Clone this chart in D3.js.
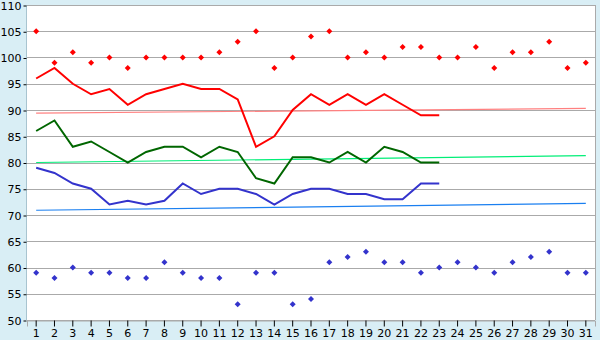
<!DOCTYPE html>
<html>
<head>
<meta charset="utf-8">
<script src="https://cdn.jsdelivr.net/npm/d3@7"></script>
<style>
  body { margin: 0; background: #d9eef5; }
  svg text { font-family: "DejaVu Sans", Verdana, sans-serif; font-size: 11px; fill: #000; }
</style>
</head>
<body>
<script>
// days of the month
const days = d3.range(1, 32);

// record highs / lows (points)
const recHigh = [105, 99, 101, 99, 100, 98, 100, 100, 100, 100, 101, 103, 105, 98, 100, 104,
                 105, 100, 101, 100, 102, 102, 100, 100, 102, 98, 101, 101, 103, 98, 99];
const recLow = [59, 58, 60, 59, 59, 58, 58, 61, 59, 58, 58, 53, 59, 59, 53, 54,
                61, 62, 63, 61, 61, 59, 60, 61, 60, 59, 61, 62, 63, 59, 59];

// observed lines (first 23 days)
const obsHigh = [96, 98, 95, 93, 94, 91, 93, 94, 95, 94, 94, 92, 83, 85, 90, 93,
                 91, 93, 91, 93, 91, 89, 89];
const obsMean = [86, 88, 83, 84, 82, 80, 82, 83, 83, 81, 83, 82, 77, 76, 81, 81,
                 80, 82, 80, 83, 82, 80, 80];
const obsLow = [79, 78, 76, 75, 72, 72.7, 72, 72.7, 76, 74, 75, 75, 74, 72, 74, 75,
                75, 74, 74, 73, 73, 76, 76];

// normals (start / end of month)
const normHigh = [89.4, 90.3];
const normMean = [80.0, 81.3];
const normLow = [70.9, 72.2];

const yTicks = d3.range(50, 111, 5);

const W = 600, H = 340;
const margin = {left: 27, right: 5, top: 5, bottom: 20};

const svg = d3.select("body").append("svg")
    .attr("width", W)
    .attr("height", H);

const x = d3.scaleBand()
    .domain(days)
    .range([margin.left, W - margin.right]);

const y = d3.scaleLinear()
    .domain([50, 110])
    .range([H - margin.bottom, margin.top]);

const cx = d => x(d) + x.bandwidth() / 2;

// plot background
svg.append("rect")
    .attr("x", margin.left)
    .attr("y", margin.top)
    .attr("width", W - margin.left - margin.right)
    .attr("height", H - margin.top - margin.bottom)
    .attr("fill", "#fff");

// grid
svg.append("g")
    .selectAll("line")
    .data(yTicks)
    .join("line")
    .attr("x1", margin.left)
    .attr("x2", W - margin.right)
    .attr("y1", d => Math.round(y(d)) + 0.5)
    .attr("y2", d => Math.round(y(d)) + 0.5)
    .attr("stroke", "#aaa")
    .attr("shape-rendering", "crispEdges");

// right / left border
svg.append("line")
    .attr("x1", W - margin.right + 0.5).attr("x2", W - margin.right + 0.5)
    .attr("y1", margin.top).attr("y2", H - margin.bottom)
    .attr("stroke", "#aaa");
svg.append("line")
    .attr("x1", margin.left - 0.5).attr("x2", margin.left - 0.5)
    .attr("y1", margin.top).attr("y2", H - margin.bottom)
    .attr("stroke", "#a8c4d0");

// axes
const yAxis = svg.append("g")
    .attr("transform", "translate(" + (margin.left - 0.5) + ",0.5)")
    .call(d3.axisLeft(y).tickValues(yTicks).tickSize(3).tickPadding(2));
yAxis.select(".domain").remove();
yAxis.selectAll("line").attr("stroke", "#000");

const xAxis = svg.append("g")
    .attr("transform", "translate(0," + (H - margin.bottom + 0.5) + ")")
    .call(d3.axisBottom(x).tickSize(6).tickPadding(3));
xAxis.select(".domain").attr("stroke", "#aaa");
xAxis.selectAll("line").attr("stroke", "#000");

// normal lines
const normals = [
    {v: normHigh, c: "#ff8080"},
    {v: normMean, c: "#00ee77"},
    {v: normLow, c: "#1a7ff0"}
];
const lineStraight = d3.line().x(d => d[0]).y(d => d[1]);
normals.forEach(n => {
    svg.append("path")
        .attr("d", lineStraight([[cx(1), y(n.v[0])], [cx(31), y(n.v[1])]]))
        .attr("fill", "none")
        .attr("stroke", n.c)
        .attr("stroke-width", 1.2);
});

// observed lines
const line = d3.line()
    .x((d, i) => cx(days[i]))
    .y(d => y(d));
const obs = [
    {v: obsHigh, c: "#ff0000"},
    {v: obsMean, c: "#006600"},
    {v: obsLow, c: "#3333cc"}
];
obs.forEach(o => {
    svg.append("path")
        .attr("d", line(o.v))
        .attr("fill", "none")
        .attr("stroke", o.c)
        .attr("stroke-width", 2);
});

// record points: small square diamonds
const marker = "M0,-3L3,0L0,3L-3,0Z";
[{v: recHigh, c: "#ff0000"}, {v: recLow, c: "#3333cc"}].forEach(s => {
    svg.append("g")
        .selectAll("path")
        .data(s.v)
        .join("path")
        .attr("transform", (d, i) => "translate(" + cx(days[i]) + "," + y(d) + ")")
        .attr("d", marker)
        .attr("fill", s.c);
});
</script>
</body>
</html>
